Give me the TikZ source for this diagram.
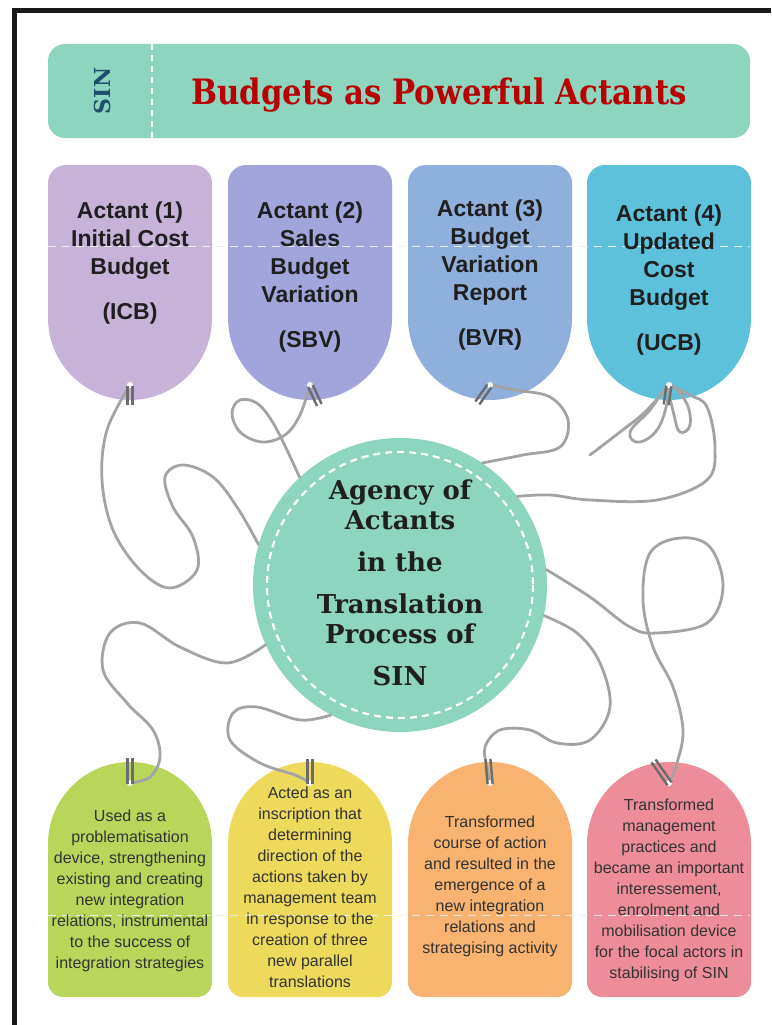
\documentclass[tikz,border=0pt]{standalone}
\usepackage{fontspec}
\setmainfont{Liberation Sans}
\newfontfamily\headfont[FakeStretch=0.88]{DejaVu Serif}
\newfontfamily\roundfont{DejaVu Serif}

\definecolor{mint}{HTML}{8DD5BF}
\definecolor{tagA}{HTML}{C7B3D8}
\definecolor{tagB}{HTML}{A2A5DC}
\definecolor{tagC}{HTML}{8FAFDC}
\definecolor{tagD}{HTML}{5DC1DB}
\definecolor{noteA}{HTML}{B9D65B}
\definecolor{noteB}{HTML}{EDD95B}
\definecolor{noteC}{HTML}{F7B36F}
\definecolor{noteD}{HTML}{EE8D9A}
\definecolor{twine}{HTML}{A3A3A3}
\definecolor{clipgray}{HTML}{6C6C6C}
\definecolor{titlered}{HTML}{B80000}
\definecolor{sinblue}{HTML}{1F4E6B}

\tikzset{
  string/.style={twine, line width=2.8pt, line cap=round},
  clipbar/.style={clipgray, line width=2.4pt},
  actant/.style={font=\bfseries\fontsize{23}{28}\selectfont, align=center, text=black!88, inner sep=0pt, anchor=north},
  effect/.style={font=\fontsize{16}{21}\selectfont, align=center, text=black!80, inner sep=0pt, anchor=north},
  fold/.style={black!7, line width=0.8pt, dash pattern=on 8pt off 6pt}
}

\begin{document}
\begin{tikzpicture}[x=1pt,y=-1pt]
    \useasboundingbox (0,0) rectangle (771,1025);
    \fill[black!90] (12,8) rectangle (771,13);
    \fill[black!90] (12,8) rectangle (17,1025);

    % banner
    \fill[mint, rounded corners=17pt] (48,44) rectangle (750,138);
    \draw[white, line width=1.6pt, dash pattern=on 6pt off 5pt] (152,44) -- (152,138);
    \node[rotate=90, font=\roundfont\bfseries\fontsize{22}{22}\selectfont, text=sinblue] (sin) at (102,91) {SIN};
    \node[font=\headfont\bfseries\fontsize{35}{35}\selectfont, text=titlered] (title) at (439,95) {Budgets as Powerful Actants};

    % actant tags (top) and effect tags (bottom)
    \foreach \n/\cx/\col/\ncol in {1/130/tagA/noteA, 2/310/tagB/noteB, 3/490/tagC/noteC, 4/669/tagD/noteD} {
        \fill[\col] (\cx-82,318) -- (\cx-82,183) arc(180:270:18) -- (\cx+64,165) arc(270:360:18) -- (\cx+82,318) arc(0:180:82) -- cycle;
        \fill[\ncol] (\cx-82,844) arc(180:360:82) -- (\cx+82,982) arc(0:90:15) -- (\cx-67,997) arc(90:180:15) -- cycle;
        \coordinate (h\n) at (\cx,385);
        \coordinate (g\n) at (\cx,783);
    }
    \draw[fold] (48,246) -- (750,246);
    \draw[fold] (48,915) -- (750,915);

    \node[actant] (a1) at (130,202) {Actant (1)\\Initial Cost\\Budget\\[17pt](ICB)};
    \node[actant] (a2) at (310,202) {Actant (2)\\Sales\\Budget\\Variation\\[17pt](SBV)};
    \node[actant] (a3) at (490,200) {Actant (3)\\Budget\\Variation\\Report\\[17pt](BVR)};
    \node[actant] (a4) at (669,205) {Actant (4)\\Updated\\Cost\\Budget\\[17pt](UCB)};

    \node[effect] (e1) at (130,810) {Used as a\\problematisation\\device, strengthening\\existing and creating\\new integration\\relations, instrumental\\to the success of\\integration strategies};
    \node[effect] (e2) at (310,787) {Acted as an\\inscription that\\determining\\direction of the\\actions taken by\\management team\\in response to the\\creation of three\\new parallel\\translations};
    \node[effect] (e3) at (490,816) {Transformed\\course of action\\and resulted in the\\emergence of a\\new integration\\relations and\\strategising activity};
    \node[effect] (e4) at (669,799) {Transformed\\management\\practices and\\became an important\\interessement,\\enrolment and\\mobilisation device\\for the focal actors in\\stabilising of SIN};

    % centre
    \node[circle, fill=mint, minimum size=294pt, inner sep=0pt] (agency) at (400,585) {};
    \draw[white, line width=2.2pt, dash pattern=on 7pt off 5pt] (agency.center) circle (133);
    \node[font=\roundfont\bfseries\fontsize{26}{30}\selectfont, align=center, text=black!88, inner sep=0pt, anchor=north] (agencytext) at (400,480) {Agency of\\Actants\\[12pt]in the\\[12pt]Translation\\Process of\\[12pt]SIN};

    % strings
    \draw[string] plot[smooth, tension=0.6] coordinates {(h1) (107,430) (102,480) (113,530) (140,570) (170,588) (197,570) (193,537) (173,507) (165,477) (183,465) (213,477) (237,507) (agency.164)};
    \draw[string] plot[smooth, tension=0.6] coordinates {(h2) (300,415) (285,435) (262,442) (240,432) (232,413) (240,400) (258,404) (276,428) (agency.133)};
    \draw[string] plot[smooth, tension=0.6] coordinates {(agency.204) (227,663) (180,647) (140,623) (110,633) (103,670) (127,703) (153,730) (160,757) (150,777) (g1)};
    \draw[string] plot[smooth, tension=0.6] coordinates {(agency.242) (300,720) (257,707) (233,713) (230,740) (260,763) (295,775) (g2)};
    \draw[string] plot[smooth, tension=0.6] coordinates {(h3) (515,390) (550,397) (568,420) (560,447) (523,455) (agency.56)};
    \draw[string] plot[smooth, tension=0.6] coordinates {(h4) (690,395) (707,407) (715,447) (707,480) (657,500) (590,500) (550,495) (agency.37)};
    \draw[string] plot[smooth cycle, tension=0.7] coordinates {(h4) (650,410) (630,432) (640,442) (660,425)};
    \draw[string] plot[smooth, tension=0.6] coordinates {(h4) (645,412) (620,432) (590,455)};
    \draw[string] plot[smooth cycle, tension=0.7] coordinates {(h4) (686,402) (690,425) (680,432) (674,415)};
    \draw[string] plot[smooth, tension=0.6] coordinates {(agency.6) (590,597) (630,627) (657,633) (707,623) (723,587) (710,547) (680,538) (650,553) (643,600) (653,647) (673,687) (683,730) (677,763) (g4)};
    \draw[string] plot[smooth, tension=0.6] coordinates {(agency.-12) (577,633) (600,663) (610,707) (590,740) (557,743) (530,730) (500,730) (485,747) (487,767) (g3)};

    % holes and clips
    \foreach \h/\a/\l in {h1/0/20, h2/25/22, h3/-35/22, h4/-8/20, g1/0/-25, g2/0/-24, g3/5/-24, g4/35/-27} {
        \fill[white] (\h) circle (3);
        \begin{scope}[shift={(\h)}, rotate=\a]
            \draw[clipbar] (-2.5,1) -- (-2.5,\l) (2.5,1) -- (2.5,\l);
        \end{scope}
    }
\end{tikzpicture}
\end{document}
